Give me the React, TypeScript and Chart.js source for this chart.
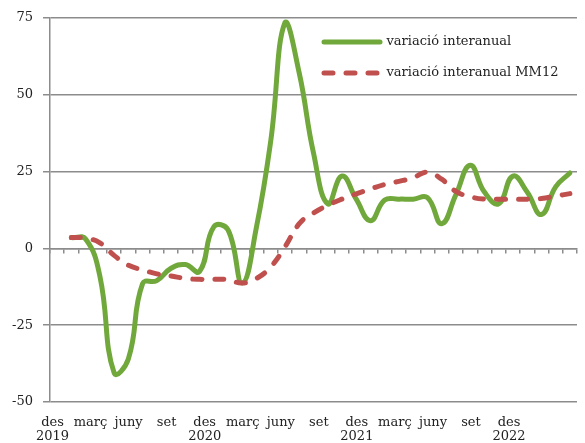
import React, { useEffect, useRef } from 'react';
import { Chart, registerables } from 'chart.js';

Chart.register(...registerables);

// 37 monthly categories: des 2019 ... des 2022
const categories = [
  'des 2019',
  'gen 2020', 'febr 2020', 'març 2020', 'abr 2020', 'maig 2020', 'juny 2020',
  'jul 2020', 'ag 2020', 'set 2020', 'oct 2020', 'nov 2020', 'des 2020',
  'gen 2021', 'febr 2021', 'març 2021', 'abr 2021', 'maig 2021', 'juny 2021',
  'jul 2021', 'ag 2021', 'set 2021', 'oct 2021', 'nov 2021', 'des 2021',
  'gen 2022', 'febr 2022', 'març 2022', 'abr 2022', 'maig 2022', 'juny 2022',
  'jul 2022', 'ag 2022', 'set 2022', 'oct 2022', 'nov 2022', 'des 2022',
];

const interanual: (number | null)[] = [
  null,
  3.5, 3, -9, -40.5, -36, -11.5,
  -10.5, -6.5, -5.3, -7.5, 7, 6,
  -11.3, 7, 35, 73.5, 57, 31,
  14.5, 23.5, 16, 9, 15.7, 16,
  16, 16.5, 8, 17.5, 27, 18.3,
  14.5, 23.5, 18.3, 11, 20, 24.5,
];

const interanualMM12: (number | null)[] = [
  null,
  3.5, 3.3, 1.8, -2.3, -5.5, -7,
  -8.3, -9, -9.8, -10.1, -10.1, -10.2,
  -11.3, -9.8, -6, 0.5, 8, 11.5,
  14, 16, 17.7, 19.3, 20.8, 21.8,
  23, 24.8, 22.5, 18.5, 16.8, 16,
  16, 16, 16, 16.2, 17, 17.8,
];

const monthTicks = ['des', 'març', 'juny', 'set', 'des', 'març', 'juny', 'set', 'des', 'març', 'juny', 'set', 'des'];
const yearTicks = ['2019', '', '', '', '2020', '', '', '', '2021', '', '', '', '2022'];

const seriesLabels = ['variació interanual', 'variació interanual MM12'];

const GREEN = '#71a83b';
const RED = '#c0504d';
const GRID = '#8c8c8c';
const TEXT = '#222222';
const FONT = "'DejaVu Serif', serif";

const legendPlacer = {
  id: 'legendPlacer',
  afterLayout(chart: any) {
    const l = chart.legend;
    if (!l) return;
    const w = l.width;
    l.left = 306;
    l.right = l.left + w;
    l.top = 17.5;
  },
};

export default function App() {
  const ref = useRef<HTMLCanvasElement | null>(null);

  useEffect(() => {
    if (!ref.current) return;
    const chart = new Chart(ref.current, {
      type: 'line',
      data: {
        labels: categories,
        datasets: [
          {
            label: seriesLabels[0],
            data: interanual,
            borderColor: GREEN,
            backgroundColor: GREEN,
            borderWidth: 5,
            borderCapStyle: 'round',
            borderJoinStyle: 'round',
            tension: 0.45,
            pointRadius: 0,
            fill: false,
            order: 1,
          },
          {
            label: seriesLabels[1],
            data: interanualMM12,
            borderColor: RED,
            backgroundColor: RED,
            borderWidth: 5,
            borderDash: [9, 13],
            borderCapStyle: 'round',
            borderJoinStyle: 'round',
            tension: 0.45,
            pointRadius: 0,
            fill: false,
            order: 0,
          },
        ],
      },
      plugins: [legendPlacer],
      options: {
        animation: false,
        responsive: false,
        devicePixelRatio: 1,
        layout: { padding: { top: 14, right: 8, left: 0, bottom: 0 } },
        font: { family: FONT, size: 13 },
        plugins: {
          tooltip: { enabled: false },
          title: { display: false },
          legend: {
            display: true,
            position: 'chartArea',
            align: 'start',
            labels: {
              usePointStyle: true,
              pointStyleWidth: 56,
              padding: 18,
              color: TEXT,
              font: { family: FONT, size: 13 },
              generateLabels: (c: any) =>
                c.data.datasets.map((ds: any, i: number) => ({
                  text: ds.label,
                  fillStyle: ds.borderColor,
                  strokeStyle: ds.borderColor,
                  lineWidth: ds.borderWidth,
                  lineDash: ds.borderDash || [],
                  lineCap: 'round',
                  lineJoin: 'round',
                  pointStyle: 'line',
                  fontColor: TEXT,
                  hidden: false,
                  datasetIndex: i,
                })),
            },
          },
        },
        scales: {
          x: {
            type: 'category',
            position: { y: 0 } as any,
            offset: true,
            ticks: { display: false },
            grid: {
              display: true,
              offset: true,
              drawOnChartArea: false,
              drawTicks: true,
              tickLength: 4,
              tickColor: GRID,
              tickWidth: 1.5,
              lineWidth: 1.5,
              color: GRID,
            },
            border: { display: true, color: GRID, width: 1.5 },
            afterFit: (s: any) => {
              s.height = 0;
            },
          },
          xl: {
            type: 'linear',
            position: 'bottom',
            axis: 'x',
            min: -0.2,
            max: 41.36,
            grid: { display: false, drawTicks: false },
            border: { display: false },
            ticks: {
              stepSize: 3,
              autoSkip: false,
              maxRotation: 0,
              minRotation: 0,
              includeBounds: false,
              padding: 13,
              color: TEXT,
              font: { family: FONT, size: 13, lineHeight: 1.12 },
              callback: (value: any) => {
                const v = Number(value);
                const k = Math.round(v / 3);
                if (Math.abs(v - 3 * k) > 1e-6 || k < 0 || k >= monthTicks.length) return null;
                return yearTicks[k] ? [monthTicks[k], yearTicks[k]] : monthTicks[k];
              },
            },
            afterFit: (s: any) => {
              s.height = 41;
            },
          },
          y: {
            type: 'linear',
            position: 'left',
            min: -50,
            max: 75,
            ticks: {
              stepSize: 25,
              padding: 10,
              color: TEXT,
              font: { family: FONT, size: 13 },
            },
            grid: {
              color: GRID,
              lineWidth: 1.5,
              drawTicks: true,
              tickLength: 7,
              tickColor: GRID,
            },
            border: { display: true, color: GRID, width: 1.5 },
            afterFit: (s: any) => {
              s.width = 50;
            },
          },
        },
      } as any,
    });
    return () => chart.destroy();
  }, []);

  return (
    <div style={{ position: 'absolute', left: 0, top: 0, width: 585, height: 443, background: '#fff' }}>
      <canvas ref={ref} width={585} height={443} style={{ display: 'block', width: 585, height: 443 }} />
    </div>
  );
}
